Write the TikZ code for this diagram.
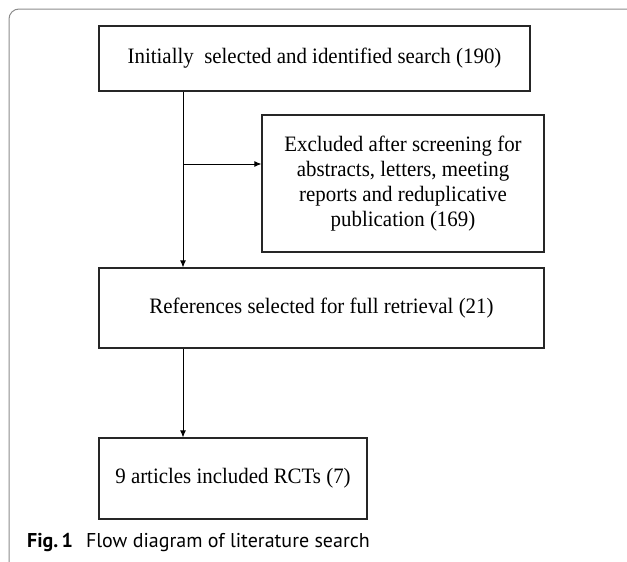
\documentclass[tikz,border=0pt]{standalone}
\usepackage{fontspec}
\setmainfont{Liberation Serif}[FakeStretch=0.95]
\newfontfamily\capfont{PT Sans}
\usetikzlibrary{arrows.meta}

\tikzset{
  stepbox/.style={draw=black!85, line width=1.2pt, fill=white, inner sep=0pt, align=center,
    font=\fontsize{22}{25}\selectfont},
  flow/.style={black, line width=0.9pt, -{Latex[length=7pt, width=6pt]}}
}

\begin{document}
\begin{tikzpicture}[x=1pt, y=-1pt]

  \clip (0,0) rectangle (627,562);

  % outer frame of the figure
  \draw[black!45, line width=1pt, rounded corners=10pt] (9,9) rectangle (660,600);

  % boxes
  \node[stepbox, minimum width=431pt, minimum height=65pt] (search) at (314.5,58.5)
    {Initially\ \ selected and identified search (190)};
  \node[stepbox, minimum width=282pt, minimum height=137pt] (excluded) at (403,183.5)
    {Excluded after screening for\\abstracts, letters, meeting\\reports and reduplicative\\publication (169)};
  \node[stepbox, minimum width=445pt, minimum height=80pt] (retrieval) at (321.5,308)
    {References selected for full retrieval (21)};
  \node[stepbox, minimum width=268pt, minimum height=81pt] (included) at (233,478.5)
    {9 articles included RCTs (7)};

  % connectors
  \coordinate (split) at (183,164);
  \draw[flow] (search.south -| split) -- (retrieval.north -| split);
  \draw[flow] (split) -- (excluded.west |- split);
  \draw[flow] (retrieval.south -| split) -- (included.north -| split);

  % caption
  \node[anchor=base west, inner sep=0pt, font=\capfont\fontsize{20}{22}\selectfont] (caption) at (27,547)
    {\textbf{Fig.\,1}\hspace{13pt}Flow diagram of literature search};

\end{tikzpicture}
\end{document}
